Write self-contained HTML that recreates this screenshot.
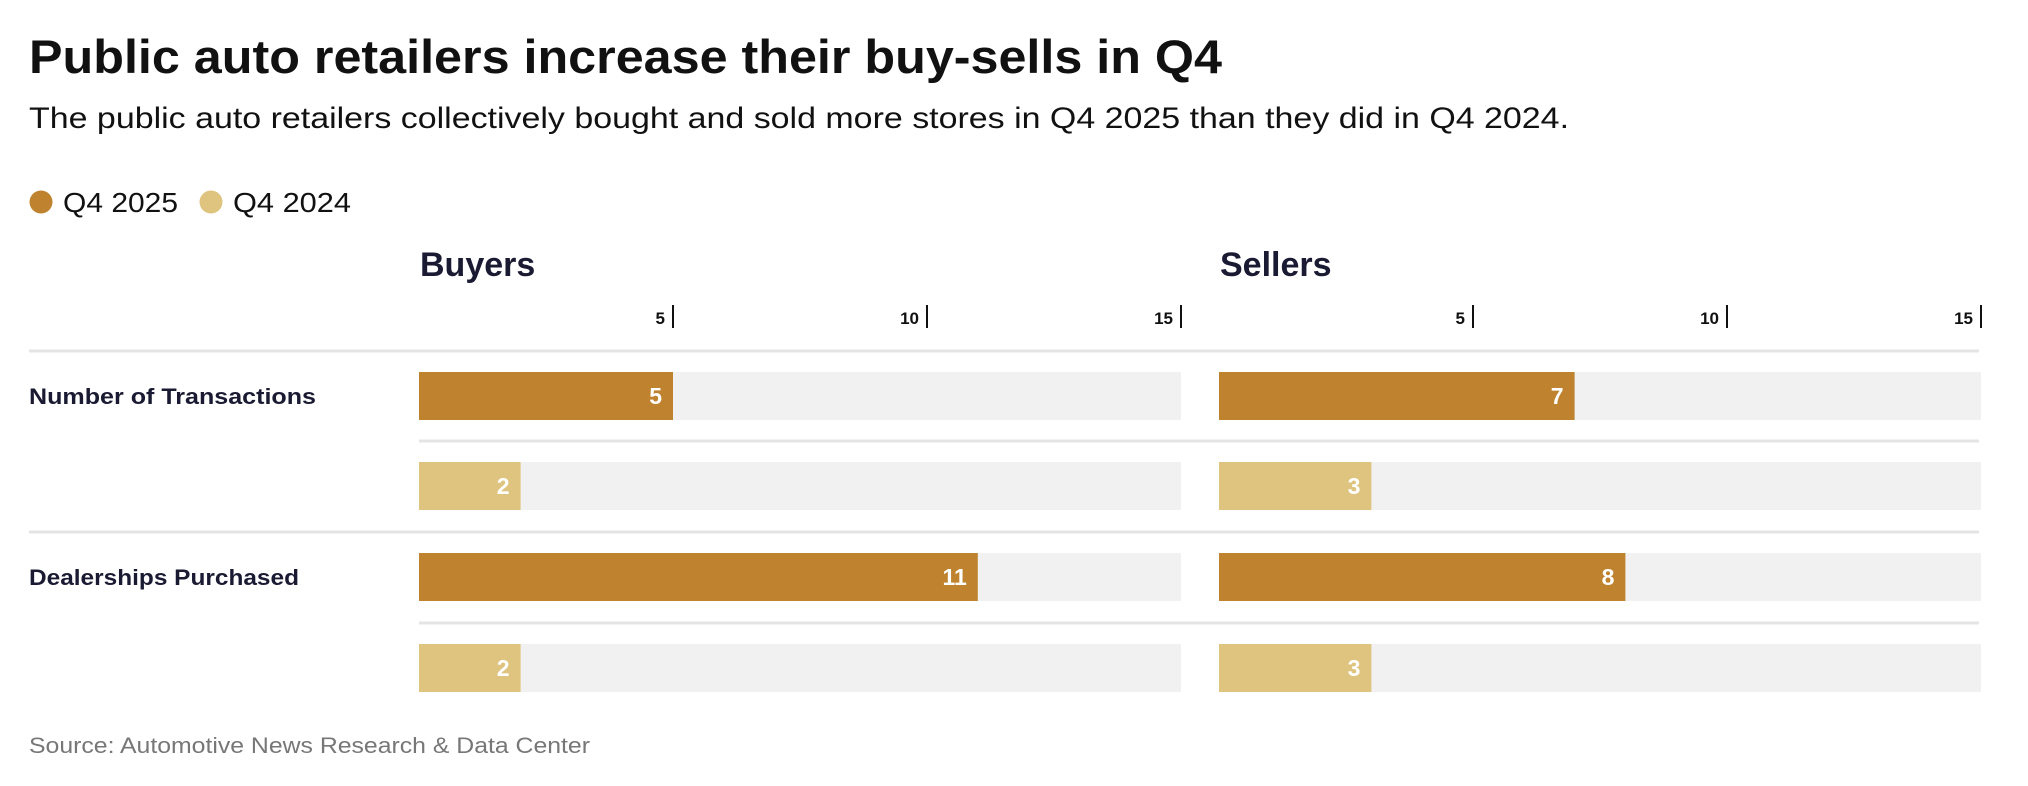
<!DOCTYPE html>
<html><head><meta charset="utf-8"><style>
html,body{margin:0;padding:0;background:#fff;}
svg{display:block;font-family:"Liberation Sans",sans-serif;}
</style></head><body>
<svg id="chart" width="2028" height="786" viewBox="0 0 2028 786" xmlns="http://www.w3.org/2000/svg">
<text x="29" y="73" font-size="47" font-weight="bold" fill="#111" textLength="1193" lengthAdjust="spacingAndGlyphs">Public auto retailers increase their buy-sells in Q4</text>
<text x="29" y="128" font-size="30" fill="#111" textLength="1540" lengthAdjust="spacingAndGlyphs">The public auto retailers collectively bought and sold more stores in Q4 2025 than they did in Q4 2024.</text>
<g>
<g><circle cx="41" cy="202" r="11.5" fill="#BF8330"/><text x="63" y="212" font-size="28" fill="#111" textLength="115" lengthAdjust="spacingAndGlyphs">Q4 2025</text></g>
<g><circle cx="211" cy="202" r="11.5" fill="#DFC47F"/><text x="233" y="212" font-size="28" fill="#111" textLength="118" lengthAdjust="spacingAndGlyphs">Q4 2024</text></g>
</g>
<g id="plot"></g>
<text x="29" y="753" font-size="22" fill="#777" textLength="561" lengthAdjust="spacingAndGlyphs">Source: Automotive News Research &amp; Data Center</text>
</svg>
<script>
const categories = ["Number of Transactions", "Dealerships Purchased"];
const panels = ["Buyers", "Sellers"];
const buyersQ42025 = [5, 11];
const buyersQ42024 = [2, 2];
const sellersQ42025 = [7, 8];
const sellersQ42024 = [3, 3];
const ticks = [5, 10, 15];

const NS = "http://www.w3.org/2000/svg";
const plot = document.getElementById("plot");
function mk(tag, attrs, parent) {
  const e = document.createElementNS(NS, tag);
  for (const k in attrs) e.setAttribute(k, attrs[k]);
  (parent || plot).appendChild(e);
  return e;
}
const panelX = [419, 1219];
const maxV = 15, unit = 50.8;
const xScale = (p, v) => panelX[p] + v * unit;
const trackW = maxV * unit;
const rowTop = [372, 462, 553, 644];
const barH = 48;
const series = [[buyersQ42025, buyersQ42024], [sellersQ42025, sellersQ42024]];
const colors = ["#BF8330", "#DFC47F"];
const sNames = ["q4-2025", "q4-2024"];
const labelW = [287, 270];

[351, 532].forEach((y, i) => {
  const l = mk("rect", {x: 29, y: y - 1.5, width: 1950, height: 3, fill: "#E4E4E4"});
  
  
});
[441, 623].forEach(y => {
  const l = mk("rect", {x: 419, y: y - 1.5, width: 1560, height: 3, fill: "#E4E4E4"});
  
  
});
categories.forEach((c, i) => {
  const t = mk("text", {x: 29, y: rowTop[i * 2] + 32, "font-size": 22, "font-weight": "bold", fill: "#1a1a33", textLength: labelW[i], lengthAdjust: "spacingAndGlyphs"});
  t.textContent = c;
  
  
});
panels.forEach((p, pi) => {
  const h = mk("text", {x: panelX[pi] + 1, y: 276, "font-size": 34, "font-weight": "bold", fill: "#1a1a33"});
  h.textContent = p;
  
  
  ticks.forEach(tv => {
    const x = xScale(pi, tv);
    const tl = mk("rect", {x: x - 1, y: 305, width: 2, height: 23, fill: "#111"});
    
    
    const tt = mk("text", {x: x - 8, y: 324, "font-size": 17, "font-weight": "bold", fill: "#111", "text-anchor": "end"});
    tt.textContent = tv;
    
    
  });
  categories.forEach((c, ci) => {
    series[pi].forEach((vals, si) => {
      const y = rowTop[ci * 2 + si];
      const tr = mk("rect", {x: panelX[pi], y: y, width: trackW, height: barH, fill: "#F1F1F1"});
      
      
      const v = vals[ci];
      const b = mk("rect", {x: panelX[pi], y: y, width: xScale(pi, v) - panelX[pi], height: barH, fill: colors[si]});
      
      
      const vt = mk("text", {x: xScale(pi, v) - 11, y: y + 32, "font-size": 23, "font-weight": "bold", fill: "#fff", "text-anchor": "end"});
      vt.textContent = v;
      
      
    });
  });
});
</script>
</body></html>
